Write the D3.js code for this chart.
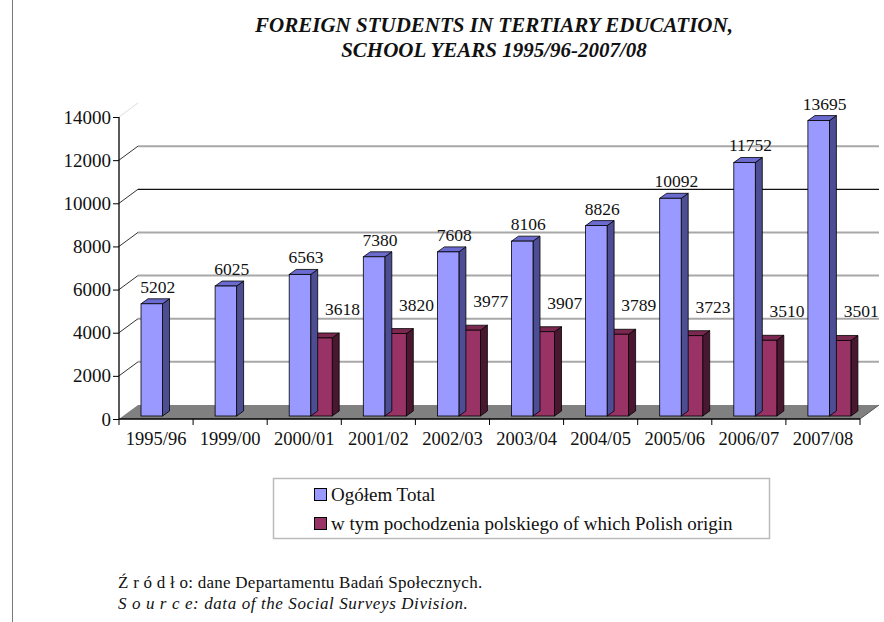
<!DOCTYPE html>
<html>
<head>
<meta charset="utf-8">
<script src="https://cdn.jsdelivr.net/npm/d3@7"></script>
<style>
  body { margin: 0; background: #fff; }
</style>
</head>
<body>
<div id="chart"></div>
<script>
const years = ["1995/96", "1999/00", "2000/01", "2001/02", "2002/03", "2003/04", "2004/05", "2005/06", "2006/07", "2007/08"]
const total = [5202, 6025, 6563, 7380, 7608, 8106, 8826, 10092, 11752, 13695]
const polish = [null, null, 3618, 3820, 3977, 3907, 3789, 3723, 3510, 3501]
const yTicks = [0, 2000, 4000, 6000, 8000, 10000, 12000, 14000]
const seriesNames = ["Ogółem Total", "w tym pochodzenia polskiego of which Polish origin"]

const FONT = '"Times New Roman", "Liberation Serif", serif'
const W = 884, H = 622
const MARGIN = { LEFT: 119, RIGHT: 884 - 860, TOP: 117, BOTTOM: 622 - 419 }
const DEPTH = { X: 19, Y: -14 }      // wall depth
const BAR = { W: 21.5, DX: 7, DY: -5, OFF: 22, LIFT: 3 }

const colors = {
    total: { front: "#9999ff", top: "#6b6bcf", side: "#4d4d94" },
    polish: { front: "#993366", top: "#7a2850", side: "#4a1730" }
}

const svg = d3.select("#chart").append("svg")
    .attr("width", W)
    .attr("height", H)
    .style("font-family", FONT)

// left page rule
svg.append("line")
    .attr("x1", 12.5).attr("x2", 12.5)
    .attr("y1", 0).attr("y2", H)
    .attr("stroke", "#777").attr("stroke-width", 1)

// title
const title = svg.append("text")
    .attr("text-anchor", "middle")
    .style("font-family", FONT)
    .style("font-weight", "bold")
    .style("font-style", "italic")
    .style("font-size", "21px")
    .attr("fill", "#111")
title.append("tspan").attr("x", 494).attr("y", 32).text("FOREIGN STUDENTS IN TERTIARY EDUCATION,")
title.append("tspan").attr("x", 494).attr("y", 57).text("SCHOOL YEARS 1995/96-2007/08")

//scales
const x = d3.scaleBand()
    .domain(years)
    .range([MARGIN.LEFT, W - MARGIN.RIGHT])

const y = d3.scaleLinear()
    .domain([0, 14000])
    .range([H - MARGIN.BOTTOM, MARGIN.TOP])

const g = svg.append("g")
const x0 = x.range()[0], x1 = x.range()[1]

// floor
g.append("polygon")
    .attr("points", [[x0, y(0)], [x1, y(0)], [x1 + DEPTH.X, y(0) + DEPTH.Y], [x0 + DEPTH.X, y(0) + DEPTH.Y]].join(" "))
    .attr("fill", "#808080")

// gridlines on the back wall + diagonals on the side wall
yTicks.forEach(t => {
    if (t > 0 && t < 14000) {
        g.append("line")
            .attr("x1", x0 + DEPTH.X).attr("x2", x1 + DEPTH.X)
            .attr("y1", y(t) + DEPTH.Y).attr("y2", y(t) + DEPTH.Y)
            .attr("stroke", t === 10000 ? "#111" : "#a8a8a8")
            .attr("stroke-width", t === 10000 ? 1.3 : 2)
    }
    if (t > 0) {
        g.append("line")
            .attr("x1", x0).attr("x2", x0 + DEPTH.X)
            .attr("y1", y(t)).attr("y2", y(t) + DEPTH.Y)
            .attr("stroke", t === 14000 ? "#ddd" : "#333")
            .attr("stroke-width", 1)
    }
})

// bars
function drawBar(px, v, c) {
    const bx = px, by0 = y(0) - BAR.LIFT, by = y(v) - BAR.LIFT
    g.append("polygon")
        .attr("points", [[bx + BAR.W, by0], [bx + BAR.W + BAR.DX, by0 + BAR.DY], [bx + BAR.W + BAR.DX, by + BAR.DY], [bx + BAR.W, by]].join(" "))
        .attr("fill", c.side).attr("stroke", "#000").attr("stroke-width", 0.8)
    g.append("polygon")
        .attr("points", [[bx, by], [bx + BAR.W, by], [bx + BAR.W + BAR.DX, by + BAR.DY], [bx + BAR.DX, by + BAR.DY]].join(" "))
        .attr("fill", c.top).attr("stroke", "#000").attr("stroke-width", 0.8)
    g.append("rect")
        .attr("x", bx).attr("y", by)
        .attr("width", BAR.W).attr("height", by0 - by)
        .attr("fill", c.front).attr("stroke", "#000").attr("stroke-width", 0.8)
}

years.forEach((yr, i) => {
    const bx = x(yr) + BAR.OFF
    if (polish[i] != null) drawBar(bx + BAR.W, polish[i], colors.polish)
    drawBar(bx, total[i], colors.total)
})

// value labels
const labels = svg.append("g")
    .style("font-family", FONT)
    .style("font-size", "17.5px")
    .attr("text-anchor", "middle")
    .attr("fill", "#111")

years.forEach((yr, i) => {
    const bx = x(yr) + BAR.OFF
    labels.append("text")
        .attr("x", bx + BAR.W / 2 + 6)
        .attr("y", y(total[i]) - BAR.LIFT - 11)
        .text(total[i])
    if (polish[i] != null) {
        labels.append("text")
            .attr("x", bx + BAR.W * 1.5 + 21)
            .attr("y", y(polish[i]) - BAR.LIFT - 23)
            .text(polish[i])
    }
})

//Axis
const yAxisCall = d3.axisLeft(y)
    .tickValues(yTicks)
    .tickFormat(d3.format("d"))
    .tickSize(6)
    .tickPadding(2)

const yAxisGroup = svg.append("g")
    .attr("transform", `translate(${x0}, 0)`)
    .call(yAxisCall)
yAxisGroup.style("font-family", FONT).style("font-size", "19px")
yAxisGroup.select(".domain").attr("stroke", "#000").attr("stroke-width", 1.3).attr("d", `M0,${y(14000)}V${y(0)}`)
yAxisGroup.selectAll("text").attr("fill", "#111")

const xAxisCall = d3.axisBottom(x)
    .tickSize(0)
    .tickPadding(13)

const xAxisGroup = svg.append("g")
    .attr("transform", `translate(0, ${y(0)})`)
    .call(xAxisCall)
xAxisGroup.style("font-family", FONT).style("font-size", "18.5px")
xAxisGroup.select(".domain").attr("stroke", "#000").attr("stroke-width", 1.3).attr("d", `M${x0},0H${x1}`)
xAxisGroup.selectAll("text").attr("fill", "#111")

// tick marks between categories
xAxisGroup.selectAll(".sep")
    .data(years.map(d => x(d) + x.bandwidth()).concat([x0]))
    .enter().append("line")
    .attr("class", "sep")
    .attr("x1", d => d).attr("x2", d => d)
    .attr("y1", 0).attr("y2", 6)
    .attr("stroke", "#000")

// right floor edge
g.append("line")
    .attr("x1", x1).attr("x2", x1 + DEPTH.X)
    .attr("y1", y(0)).attr("y2", y(0) + DEPTH.Y)
    .attr("stroke", "#555")

// legend
const legend = svg.append("g").style("font-family", FONT)
legend.append("rect")
    .attr("x", 273.5).attr("y", 478.5)
    .attr("width", 496).attr("height", 60)
    .attr("fill", "none").attr("stroke", "#bbb").attr("stroke-width", 1.5)

const legendItems = [
    { name: seriesNames[0], color: colors.total.front },
    { name: seriesNames[1], color: colors.polish.front }
]
legendItems.forEach((d, i) => {
    legend.append("rect")
        .attr("x", 314.5).attr("y", 488.5 + i * 29)
        .attr("width", 12).attr("height", 12)
        .attr("fill", d.color).attr("stroke", "#000")
    legend.append("text")
        .attr("x", 331).attr("y", 501 + i * 29)
        .style("font-size", "19px")
        .attr("fill", "#111")
        .text(d.name)
})

// source
const source = svg.append("g").style("font-family", FONT).style("font-size", "17px").attr("fill", "#111")
source.append("text")
    .attr("x", 118).attr("y", 588)
    .style("letter-spacing", "0.25px")
    .text("Ź r ó d ł o: dane Departamentu Badań Społecznych.")
source.append("text")
    .attr("x", 118).attr("y", 609)
    .style("font-style", "italic")
    .style("letter-spacing", "0.6px")
    .text("S o u r c e: data of the Social Surveys Division.")
</script>
</body>
</html>
